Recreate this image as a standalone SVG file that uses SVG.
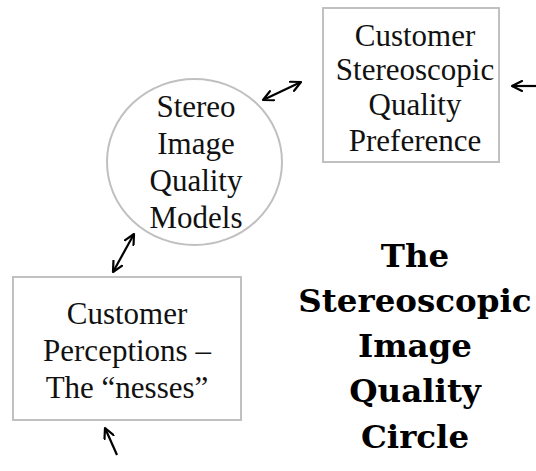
<svg xmlns="http://www.w3.org/2000/svg" width="536" height="471" viewBox="0 0 536 471">
<style>
.box{fill:#fff;stroke:#c0c0c0;stroke-width:2}
.t{font-family:"Liberation Serif","Times New Roman",serif;font-size:31px;fill:#111;text-anchor:middle}
.b{font-family:"DejaVu Serif","Liberation Serif",serif;font-size:32.5px;font-weight:bold;fill:#000;text-anchor:middle}
.c{stroke:#000;stroke-width:2.2;fill:none}
</style>
<defs>
<marker id="ah" viewBox="0 0 12 12" refX="11" refY="6" markerWidth="12" markerHeight="12" markerUnits="userSpaceOnUse" orient="auto-start-reverse">
<path d="M1,1 L11,6 L1,11" fill="none" stroke="#000" stroke-width="2.2" stroke-linecap="round" stroke-linejoin="round"/>
</marker>
</defs>
<rect width="536" height="471" fill="#fff"/>
<g id="node-preference">
<rect class="box" x="323" y="8" width="176" height="154"/>
<text class="t" x="415" y="46">Customer</text>
<text class="t" x="415" y="80">Stereoscopic</text>
<text class="t" x="415" y="115">Quality</text>
<text class="t" x="415" y="151">Preference</text>
</g>
<g id="node-models">
<ellipse class="box" cx="194.5" cy="162" rx="87.5" ry="83"/>
<text class="t" x="196" y="117">Stereo</text>
<text class="t" x="196" y="154">Image</text>
<text class="t" x="196" y="191">Quality</text>
<text class="t" x="196" y="228">Models</text>
</g>
<g id="node-perceptions">
<rect class="box" x="13" y="277" width="228" height="143"/>
<text class="t" x="127" y="324">Customer</text>
<text class="t" x="127" y="361">Perceptions –</text>
<text class="t" x="127" y="398">The “nesses”</text>
</g>
<g id="title">
<text class="b" x="415" y="267">The</text>
<text class="b" x="415" y="312">Stereoscopic</text>
<text class="b" x="415" y="357">Image</text>
<text class="b" x="415" y="402">Quality</text>
<text class="b" x="415" y="448">Circle</text>
</g>
<g id="connectors">
<line class="c" x1="263" y1="100" x2="301" y2="82" marker-start="url(#ah)" marker-end="url(#ah)"/>
<line class="c" x1="113" y1="272" x2="134" y2="234" marker-start="url(#ah)" marker-end="url(#ah)"/>
<line class="c" x1="540" y1="86" x2="512" y2="86" marker-end="url(#ah)"/>
<line class="c" x1="117" y1="455" x2="105" y2="428" marker-end="url(#ah)"/>
</g>
</svg>
